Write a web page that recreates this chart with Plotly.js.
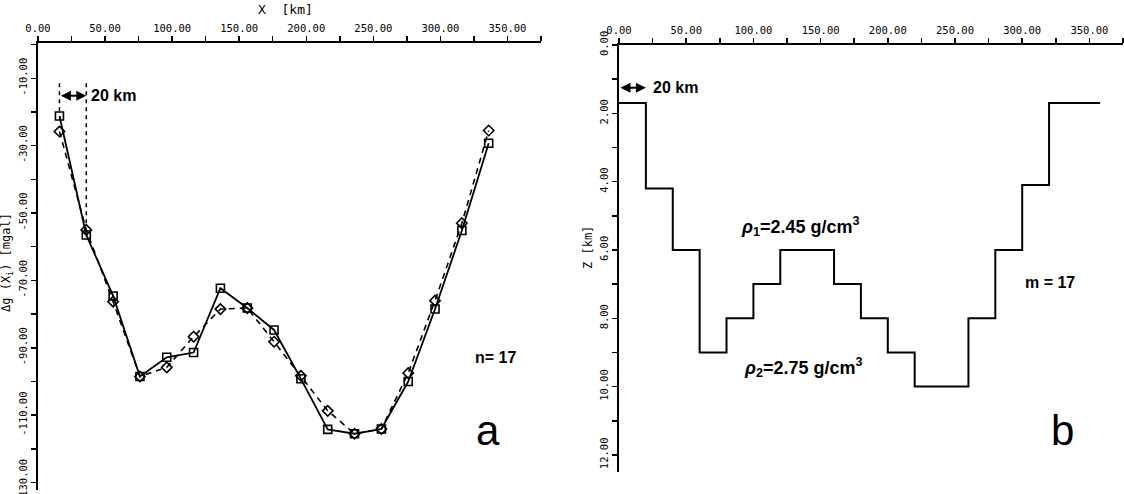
<!DOCTYPE html>
<html><head><meta charset="utf-8">
<script src="https://cdn.plot.ly/plotly-3.0.1.min.js"></script>
<style>html,body{margin:0;padding:0;background:#fff}#c{width:1124px;height:494px}</style>
</head><body><div id="c"></div>
<script>
// Panel a: gravity anomaly profile, 17 stations
const stationX = [16,36,56,76,96,116,136,156,176,196,216,236,256,276,296,316,336];
const observedDg = [-21.2,-56.5,-74.6,-98.5,-92.8,-91.4,-72.3,-78.2,-84.7,-99.2,-114.2,-115.5,-114.1,-100.0,-78.5,-55.2,-29.3];
const computedDg = [-25.8,-55.0,-76.3,-98.5,-95.8,-86.7,-78.5,-78.2,-88.2,-98.3,-108.7,-115.5,-114.1,-97.5,-76.0,-53.0,-25.5];
// Panel b: basement depth model, block edges (km) and depths (km)
const blockEdges = [0,20,40,60,80,100,120,140,160,180,200,220,240,260,280,300,320,358];
const blockDepth = [1.7,4.2,6,9,8,7,6,6,7,8,9,10,10,8,6,4.1,1.7,1.7];
// Tick definitions
const xTickVals = [0,25,50,75,100,125,150,175,200,225,250,275,300,325,350,375];
const xTickText = ["0.00","","50.00","","100.00","","150.00","","200.00","","250.00","","300.00","","350.00",""];
const yaTickVals = [0,-10,-20,-30,-40,-50,-60,-70,-80,-90,-100,-110,-120,-130];
const yaTickText = ["","-10.00","","-30.00","","-50.00","","-70.00","","-90.00","","-110.00","","-130.00"];
const ybTickVals = [0,1,2,3,4,5,6,7,8,9,10,11,12];
const ybTickText = ["0.00","","2.00","","4.00","","6.00","","8.00","","10.00","","12.00"];

const tickFont = {family:"DejaVu Sans Mono", size:10.5, color:"#000"};
const lblFont = {family:"Liberation Sans, Arial", size:16, color:"#000"};

const traces = [
  {x:stationX, y:observedDg, xaxis:"x", yaxis:"y", mode:"lines+markers",
   line:{color:"#000", width:1.8}, marker:{symbol:"square-open", size:8, color:"#000", line:{width:1.6}}},
  {x:stationX, y:computedDg, xaxis:"x", yaxis:"y", mode:"lines+markers",
   line:{color:"#000", width:1.6, dash:"6px,5px"}, marker:{symbol:"diamond-open", size:8, color:"#000", line:{width:1.6}}},
  {x:blockEdges, y:blockDepth, xaxis:"x2", yaxis:"y2", mode:"lines",
   line:{color:"#000", width:2, shape:"hv"}}
];

const axCommon = {showgrid:false, zeroline:false, showline:true, linecolor:"#000", linewidth:2,
  ticks:"outside", ticklen:5, tickwidth:1.5, tickcolor:"#000", tickfont:tickFont, tickmode:"array",
  ticklabeloverflow:"allow"};

function txt(xref, yref, x, y, text, font, extra) {
  return Object.assign({xref:xref, yref:yref, x:x, y:y, text:text, showarrow:false,
    xanchor:"center", yanchor:"middle", font:font}, extra || {});
}

const layout = {
  width:1124, height:494, margin:{l:0,r:0,t:0,b:0}, showlegend:false,
  paper_bgcolor:"#fff", plot_bgcolor:"#fff",
  xaxis:Object.assign({}, axCommon, {domain:[38/1124, 541/1124], range:[0,375], side:"top", anchor:"y",
     tickvals:xTickVals, ticktext:xTickText, tickangle:0}),
  yaxis:Object.assign({}, axCommon, {domain:[1-490/494, 1-43/494], range:[-132.2,0.47], anchor:"x",
     tickvals:yaTickVals, ticktext:yaTickText, tickangle:-90}),
  xaxis2:Object.assign({}, axCommon, {domain:[619/1124, 1123/1124], range:[0,375], side:"top", anchor:"y2",
     tickvals:xTickVals, ticktext:xTickText, tickangle:0}),
  yaxis2:Object.assign({}, axCommon, {domain:[1-472/494, 1-45/494], range:[12.5,0], anchor:"x2",
     tickvals:ybTickVals, ticktext:ybTickText, tickangle:-90}),
  shapes:[
    {type:"line", xref:"x", yref:"y", x0:stationX[0], x1:stationX[0], y0:-11.5, y1:observedDg[0]+1.5,
     line:{color:"#000", width:1.5, dash:"4px,4px"}},
    {type:"line", xref:"x", yref:"y", x0:stationX[1], x1:stationX[1], y0:-11.5, y1:computedDg[1]+1.5,
     line:{color:"#000", width:1.5, dash:"4px,4px"}}
  ],
  annotations:[
    txt("paper","paper", 285/1124, 1-10/494, "X  [km]", {family:"DejaVu Sans Mono", size:13, color:"#000"}),
    txt("paper","paper", 7/1124, 1-263/494, "Δg (X<sub>i</sub>) [mgal]", {family:"DejaVu Sans Mono", size:12, color:"#000"}, {textangle:-90}),
    txt("paper","paper", 588/1124, 1-248/494, "Z [km]", {family:"DejaVu Sans Mono", size:12, color:"#000"}, {textangle:-90}),
    // 20 km arrows
    {xref:"x", yref:"y", x:stationX[1], y:-15.2, axref:"x", ayref:"y", ax:stationX[0], ay:-15.2, text:"",
     showarrow:true, arrowside:"end+start", arrowhead:2, arrowsize:1, arrowwidth:2, arrowcolor:"#000"},
    txt("x","y", stationX[1]+2, -15.2, "<b>20 km</b>", lblFont, {xanchor:"left"}),
    {xref:"x2", yref:"y2", x:blockEdges[1], y:1.25, axref:"x2", ayref:"y2", ax:blockEdges[0], ay:1.25, text:"",
     showarrow:true, arrowside:"end+start", arrowhead:2, arrowsize:1, arrowwidth:2, arrowcolor:"#000"},
    txt("x2","y2", blockEdges[1]+4, 1.25, "<b>20 km</b>", lblFont, {xanchor:"left"}),
    txt("paper","paper", 495/1124, 1-357/494, "<b>n= 17</b>", lblFont),
    txt("paper","paper", 488/1124, 1-430/494, "a", {family:"Liberation Sans, Arial", size:42, color:"#000"}),
    txt("paper","paper", 1050/1124, 1-282/494, "<b>m = 17</b>", lblFont),
    txt("paper","paper", 1062/1124, 1-430/494, "b", {family:"Liberation Sans, Arial", size:42, color:"#000"}),
    txt("paper","paper", 800/1124, 1-226/494, "<b><i>ρ</i><sub>1</sub>=2.45 g/cm<sup>3</sup></b>", {family:"Liberation Sans, Arial", size:18, color:"#000"}),
    txt("paper","paper", 803/1124, 1-367/494, "<b><i>ρ</i><sub>2</sub>=2.75 g/cm<sup>3</sup></b>", {family:"Liberation Sans, Arial", size:18, color:"#000"})
  ]
};
Plotly.newPlot("c", traces, layout, {staticPlot:true, displayModeBar:false});
</script></body></html>
